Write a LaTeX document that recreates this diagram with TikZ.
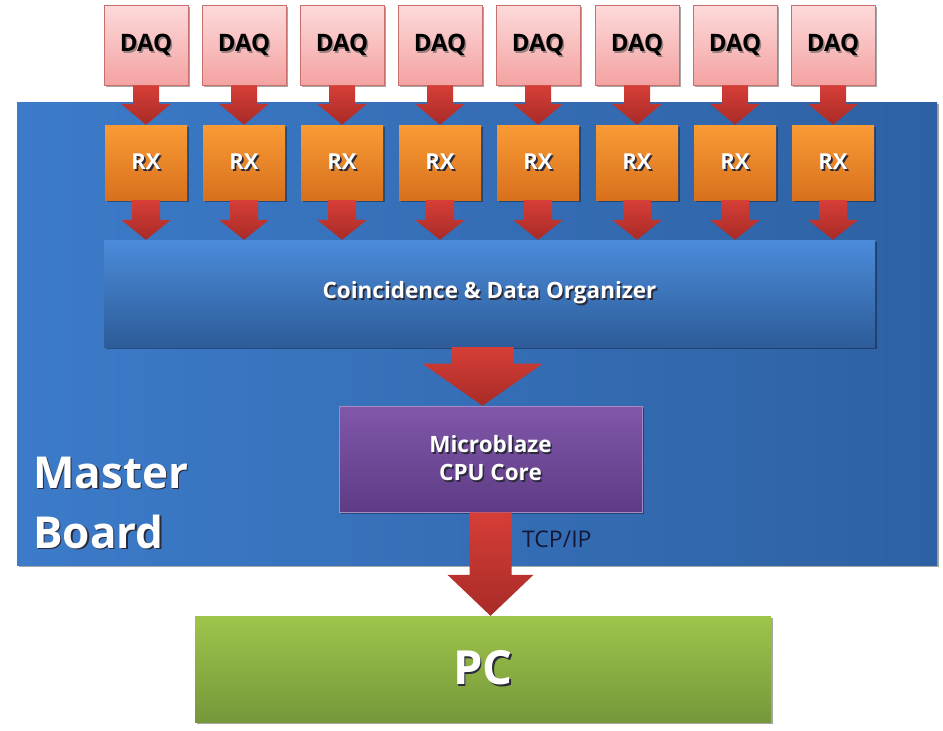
\documentclass[tikz,border=0pt]{standalone}
\usepackage{fontspec}
\setmainfont{Open Sans}
\usetikzlibrary{calc,shadows}
\definecolor{boardL}{HTML}{3C7BC9}
\definecolor{boardR}{HTML}{2E61A3}
\definecolor{daqT}{HTML}{FDDADA}
\definecolor{daqB}{HTML}{F4A2A2}
\definecolor{daqE}{HTML}{C8706E}
\definecolor{rxT}{HTML}{F99B36}
\definecolor{rxB}{HTML}{D8701C}
\definecolor{cdoT}{HTML}{4B8BDA}
\definecolor{cdoB}{HTML}{2D5C98}
\definecolor{mbT}{HTML}{8157AA}
\definecolor{mbB}{HTML}{5E3B84}
\definecolor{pcT}{HTML}{9EC54B}
\definecolor{pcB}{HTML}{76973A}
\definecolor{arT}{HTML}{D63E37}
\definecolor{arB}{HTML}{A82B27}
\definecolor{tcp}{HTML}{141836}
\definecolor{shdark}{HTML}{2A2A3A}
\definecolor{shpink}{HTML}{9A8080}
% text with a drop shadow, in one box: #1 shadow colour, #2 text
\newcommand\shw[2]{\makebox[0pt][l]{\hspace{1.6pt}\raisebox{-1.8pt}{\textcolor{#1}{#2}}}#2}
\tikzset{
  box/.style={rectangle, inner sep=0pt, draw=none},
  shad/.style={drop shadow={shadow xshift=1.5pt, shadow yshift=-2pt, opacity=0.35, fill=black}},
  daqbox/.style={box, minimum width=84pt, minimum height=80pt, top color=daqT, bottom color=daqB, draw=daqE, line width=0.8pt, shad},
  rxbox/.style={box, minimum width=82pt, minimum height=75pt, top color=rxT, bottom color=rxB, shad},
  wlabel/.style={text=white, font=\bfseries, align=center},
}
% fat arrow: #1 source, #2 target, #3 half shaft, #4 half head, #5 head length, #6 x offset
\newcommand\fatarrow[6]{%
  \shade[top color=arT, bottom color=arB]
    ($(#1.south)+(#6-#3,0)$) --
    ($(#1.south |- #2.north)+(#6-#3,-#5)$) --
    ($(#1.south |- #2.north)+(#6-#4,-#5)$) --
    ($(#1.south |- #2.north)+(#6,0)$) --
    ($(#1.south |- #2.north)+(#6+#4,-#5)$) --
    ($(#1.south |- #2.north)+(#6+#3,-#5)$) --
    ($(#1.south)+(#6+#3,0)$) -- cycle;}
\begin{document}
\begin{tikzpicture}[x=1pt,y=-1pt]
\useasboundingbox (0,0) rectangle (943,731);
\fill[white] (0,0) rectangle (943,731);

% master board
\node[box, minimum width=920pt, minimum height=463pt, left color=boardL, right color=boardR, shad] (board) at (477,333.5) {};

% DAQ and RX
\foreach \i/\x in {1/146,2/244,3/342,4/440,5/538,6/637,7/735,8/833}{
  \node[daqbox] (daq\i) at (\x,45) {};
  \node[text=black, font=\bfseries\fontsize{24}{28}\selectfont] (daqt\i) at (\x,46) {\shw{shpink}{DAQ}};
  \node[rxbox] (rx\i) at (\x,162.5) {};
  \node[wlabel, font=\bfseries\fontsize{22}{26}\selectfont] (rxt\i) at (rx\i) {\shw{shdark}{RX}};
}

% Coincidence box
\node[box, minimum width=771pt, minimum height=107pt, top color=cdoT, bottom color=cdoB, shad] (cdo) at (489.5,293.5) {};
\node[wlabel, font=\bfseries\fontsize{22.5}{26}\selectfont] (cdot) at (cdo) {\shw{shdark}{Coincidence \& Data Organizer}};

% Microblaze
\node[box, minimum width=303pt, minimum height=106pt, top color=mbT, bottom color=mbB, draw=mbT!70!white, line width=0.6pt, shad] (mb) at (490.5,459) {};
\node[wlabel, font=\bfseries\fontsize{22.5}{28}\selectfont] (mbt) at (mb) {\shw{shdark}{Microblaze}\\\shw{shdark}{CPU Core}};

% PC
\node[box, minimum width=576pt, minimum height=106pt, top color=pcT, bottom color=pcB, shad] (pc) at (483,669) {};
\node[wlabel, font=\bfseries\fontsize{47}{52}\selectfont] (pct) at (pc) {\shw{shdark}{PC}};

% arrows
\foreach \i in {1,...,8}{
  \fatarrow{daq\i}{rx\i}{13}{25}{21}{0}
  \fatarrow{rx\i}{cdo}{14}{25}{20}{0}
}
\fatarrow{cdo}{mb}{31}{60}{42}{-7}
\fatarrow{mb}{pc}{21}{43}{41}{0}

% labels
\node[anchor=base west, text=white, font=\bfseries\fontsize{44}{50}\selectfont, inner sep=0pt] (mast) at (33,488) {\shw{shdark}{Master}};
\node[anchor=base west, text=white, font=\bfseries\fontsize{44}{50}\selectfont, inner sep=0pt] (boardT) at (33,548) {\shw{shdark}{Board}};
\node[anchor=west, text=tcp, font=\fontsize{23}{26}\selectfont, inner sep=0pt] (tcp) at (522,539) {TCP/IP};
\end{tikzpicture}
\end{document}
